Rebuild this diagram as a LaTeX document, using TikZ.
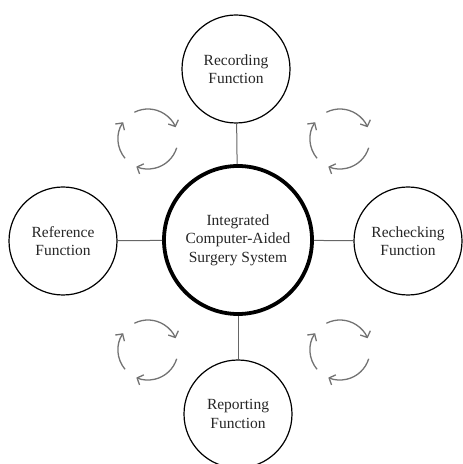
\documentclass[tikz,border=0pt]{standalone}
\usepackage{fontspec}
\setmainfont{Liberation Serif}
\usetikzlibrary{arrows.meta,calc}
\begin{document}
\begin{tikzpicture}[x=1pt,y=1pt,
  func/.style={circle,draw=black,line width=1.2pt,minimum size=108pt,inner sep=0pt,
    align=center,font=\fontsize{15.5}{18.5}\selectfont,text=black!85},
  hub/.style={circle,draw=black,line width=3.8pt,minimum size=148pt,inner sep=0pt,
    align=center,font=\fontsize{15.5}{18.5}\selectfont,text=black!85},
  link/.style={draw=black!60,line width=1pt},
  cyc/.style={draw=black!55,line width=1.3pt,-{Straight Barb[length=5pt,width=11pt]}}]
\useasboundingbox (0,0) rectangle (463,464);
\node[hub] (c) at (238,224) {Integrated\\Computer-Aided\\Surgery System};
\node[func] (t) at (236,395) {Recording\\Function};
\node[func] (l) at (63,223) {Reference\\Function};
\node[func] (r) at (408,223) {Rechecking\\Function};
\node[func] (b) at (238,50) {Reporting\\Function};
\draw[link] (t) -- (c);
\draw[link] (b) -- (c);
\draw[link] (l) -- (c);
\draw[link] (r) -- (c);
\coordinate (cyA) at (148,325);
\coordinate (cyB) at (340,325);
\coordinate (cyC) at (148,114);
\coordinate (cyD) at (340,114);
\foreach \n in {cyA,cyB,cyC,cyD}{
  \draw[cyc] ($(\n)+(117:30)$) arc[start angle=117,end angle=23,radius=30];
  \draw[cyc] ($(\n)+(-17:30)$) arc[start angle=-17,end angle=-113,radius=30];
  \draw[cyc] ($(\n)+(220:30)$) arc[start angle=220,end angle=146,radius=30];
}
\end{tikzpicture}
\end{document}
